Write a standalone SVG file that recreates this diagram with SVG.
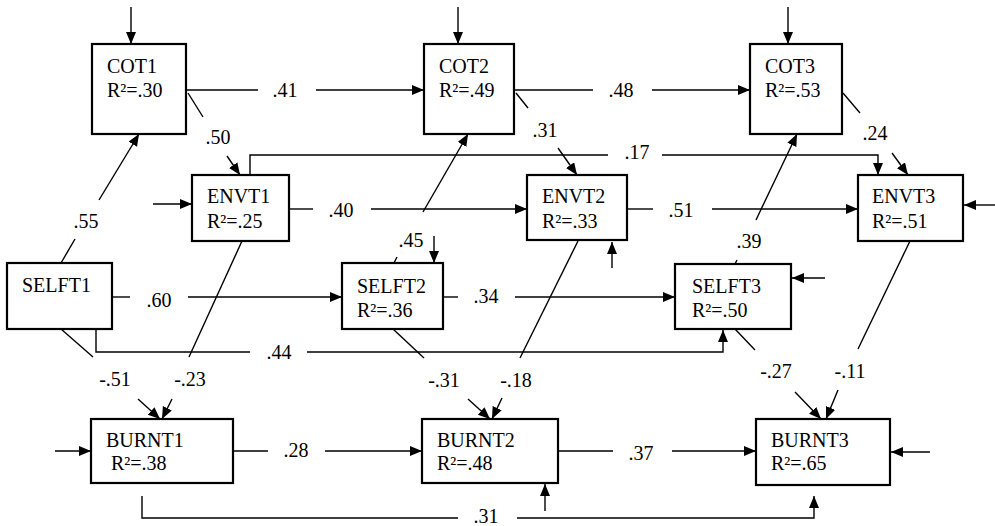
<svg xmlns="http://www.w3.org/2000/svg" width="995" height="526" viewBox="0 0 995 526">
<style>
.box{fill:#fff;stroke:#000;stroke-width:2.2}
.t{font-family:"Liberation Serif","Times New Roman",serif;font-size:20px;fill:#000}
.l{font-family:"Liberation Serif","Times New Roman",serif;font-size:20px;fill:#000;text-anchor:middle}
.c{fill:none;stroke:#000;stroke-width:1.4}
.a{marker-end:url(#ah)}
</style>
<defs>
<marker id="ah" markerUnits="userSpaceOnUse" markerWidth="13" markerHeight="11" refX="12" refY="5" orient="auto">
<path d="M0,0 L12,5 L0,10 z" fill="#000"/>
</marker>
</defs>
<rect width="995" height="526" fill="#fff"/>
<g id="connectors">
<!-- residual arrows -->
<line class="c a" x1="131" y1="7" x2="131" y2="44"/>
<line class="c a" x1="458" y1="7" x2="458" y2="44"/>
<line class="c a" x1="788" y1="7" x2="788" y2="44"/>
<line class="c a" x1="153" y1="204" x2="192" y2="204"/>
<line class="c a" x1="612" y1="268" x2="612" y2="242"/>
<line class="c a" x1="995" y1="205" x2="964" y2="205"/>
<line class="c a" x1="434" y1="236" x2="434" y2="263"/>
<line class="c a" x1="825" y1="278" x2="792" y2="278"/>
<line class="c a" x1="55" y1="451" x2="91" y2="451"/>
<line class="c a" x1="545" y1="511" x2="545" y2="484"/>
<line class="c a" x1="930" y1="452" x2="891" y2="452"/>
<!-- COT horizontal -->
<line class="c" x1="187" y1="90" x2="258" y2="90"/>
<line class="c a" x1="316" y1="90" x2="424" y2="90"/>
<line class="c" x1="515" y1="90" x2="593" y2="90"/>
<line class="c a" x1="652" y1="90" x2="750" y2="90"/>
<!-- COT -> ENVT -->
<line class="c" x1="188" y1="93" x2="203" y2="117"/>
<line class="c a" x1="227" y1="156" x2="240" y2="175"/>
<line class="c" x1="516" y1="93" x2="528" y2="108"/>
<line class="c a" x1="558" y1="148" x2="577" y2="175"/>
<line class="c" x1="843" y1="93" x2="860" y2="113"/>
<line class="c a" x1="892" y1="153" x2="908" y2="175"/>
<!-- ENVT1 -> ENVT3 .17 -->
<polyline class="c" points="250,175 250,155 608,155"/>
<polyline class="c a" points="662,155 878,155 878,175"/>
<!-- ENVT horizontal -->
<line class="c" x1="290" y1="209" x2="313" y2="209"/>
<line class="c a" x1="371" y1="209" x2="527" y2="209"/>
<line class="c" x1="628" y1="209" x2="653" y2="209"/>
<line class="c a" x1="712" y1="209" x2="858" y2="209"/>
<!-- SELF -> COT -->
<line class="c" x1="61" y1="263" x2="75" y2="239"/>
<line class="c a" x1="99" y1="200" x2="139" y2="134"/>
<line class="c" x1="394" y1="263" x2="397" y2="257"/>
<line class="c a" x1="423" y1="212" x2="468" y2="134"/>
<line class="c" x1="735" y1="264" x2="737" y2="260"/>
<line class="c a" x1="756" y1="220" x2="797" y2="134"/>
<!-- SELF horizontal -->
<line class="c" x1="113" y1="297" x2="130" y2="297"/>
<line class="c a" x1="188" y1="297" x2="342" y2="297"/>
<line class="c" x1="444" y1="297" x2="458" y2="297"/>
<line class="c a" x1="515" y1="297" x2="675" y2="297"/>
<!-- SELFT1 -> SELFT3 .44 -->
<polyline class="c" points="96,329 96,352 250,352"/>
<polyline class="c a" points="307,352 723,352 723,330"/>
<!-- to BURNT1 -->
<line class="c" x1="61" y1="329" x2="93" y2="357"/>
<line class="c a" x1="138" y1="399" x2="160" y2="419"/>
<line class="c" x1="242" y1="241" x2="189" y2="357"/>
<line class="c a" x1="172" y1="399" x2="162" y2="419"/>
<!-- to BURNT2 -->
<line class="c" x1="393" y1="329" x2="424" y2="358"/>
<line class="c a" x1="468" y1="399" x2="490" y2="419"/>
<line class="c" x1="578" y1="241" x2="520" y2="358"/>
<line class="c a" x1="502" y1="398" x2="492" y2="419"/>
<!-- to BURNT3 -->
<line class="c" x1="735" y1="329" x2="755" y2="350"/>
<line class="c a" x1="795" y1="392" x2="821" y2="419"/>
<line class="c" x1="910" y1="241" x2="858" y2="349"/>
<line class="c a" x1="838" y1="390" x2="826" y2="419"/>
<!-- BURNT horizontal -->
<line class="c" x1="234" y1="451" x2="268" y2="451"/>
<line class="c a" x1="325" y1="451" x2="422" y2="451"/>
<line class="c" x1="559" y1="451" x2="613" y2="451"/>
<line class="c a" x1="672" y1="451" x2="756" y2="451"/>
<!-- BURNT1 -> BURNT3 .31 -->
<polyline class="c" points="142,496 142,518 458,518"/>
<polyline class="c a" points="517,518 814,518 814,496"/>
</g>
<g id="labels">
<text class="l" x="285" y="97">.41</text>
<text class="l" x="621" y="97">.48</text>
<text class="l" x="218" y="144">.50</text>
<text class="l" x="545" y="137">.31</text>
<text class="l" x="637" y="159">.17</text>
<text class="l" x="875" y="140">.24</text>
<text class="l" x="86" y="228">.55</text>
<text class="l" x="341" y="217">.40</text>
<text class="l" x="681" y="217">.51</text>
<text class="l" x="411" y="247">.45</text>
<text class="l" x="749" y="248">.39</text>
<text class="l" x="159" y="307">.60</text>
<text class="l" x="486" y="303">.34</text>
<text class="l" x="279" y="359">.44</text>
<text class="l" x="115" y="386">-.51</text>
<text class="l" x="190" y="386">-.23</text>
<text class="l" x="444" y="387">-.31</text>
<text class="l" x="516" y="387">-.18</text>
<text class="l" x="776" y="378">-.27</text>
<text class="l" x="850" y="378">-.11</text>
<text class="l" x="296" y="457">.28</text>
<text class="l" x="641" y="460">.37</text>
<text class="l" x="486" y="523">.31</text>
</g>
<g id="COT1"><rect class="box" x="92" y="44" width="94" height="90"/><text class="t" x="107" y="73">COT1</text><text class="t" x="107" y="97">R²=.30</text></g>
<g id="COT2"><rect class="box" x="424" y="44" width="90" height="90"/><text class="t" x="439" y="73">COT2</text><text class="t" x="439" y="97">R²=.49</text></g>
<g id="COT3"><rect class="box" x="750" y="44" width="92" height="90"/><text class="t" x="765" y="73">COT3</text><text class="t" x="765" y="97">R²=.53</text></g>
<g id="ENVT1"><rect class="box" x="192" y="175" width="97" height="66"/><text class="t" x="207" y="203">ENVT1</text><text class="t" x="207" y="228">R²=.25</text></g>
<g id="ENVT2"><rect class="box" x="527" y="175" width="100" height="65"/><text class="t" x="542" y="203">ENVT2</text><text class="t" x="542" y="228">R²=.33</text></g>
<g id="ENVT3"><rect class="box" x="858" y="175" width="105" height="66"/><text class="t" x="872" y="203">ENVT3</text><text class="t" x="872" y="228">R²=.51</text></g>
<g id="SELFT1"><rect class="box" x="7" y="263" width="105" height="66"/><text class="t" x="22" y="292">SELFT1</text></g>
<g id="SELFT2"><rect class="box" x="342" y="263" width="101" height="66"/><text class="t" x="357" y="293">SELFT2</text><text class="t" x="357" y="317">R²=.36</text></g>
<g id="SELFT3"><rect class="box" x="675" y="264" width="116" height="65"/><text class="t" x="692" y="293">SELFT3</text><text class="t" x="692" y="317">R²=.50</text></g>
<g id="BURNT1"><rect class="box" x="91" y="419" width="142" height="64"/><text class="t" x="106" y="447">BURNT1</text><text class="t" x="111" y="470">R²=.38</text></g>
<g id="BURNT2"><rect class="box" x="422" y="419" width="136" height="64"/><text class="t" x="437" y="447">BURNT2</text><text class="t" x="437" y="470">R²=.48</text></g>
<g id="BURNT3"><rect class="box" x="756" y="419" width="134" height="66"/><text class="t" x="771" y="447">BURNT3</text><text class="t" x="771" y="470">R²=.65</text></g>
</svg>
